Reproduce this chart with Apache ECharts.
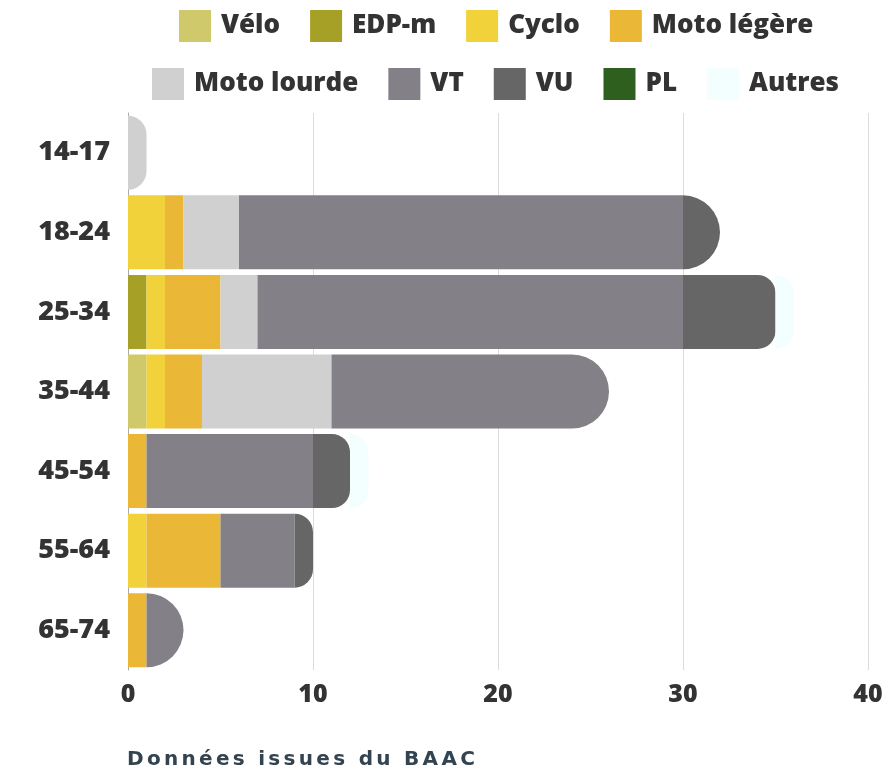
<!DOCTYPE html>
<html>
<head>
<meta charset="utf-8">
<script src="https://cdn.jsdelivr.net/npm/echarts@6/dist/echarts.min.js"></script>
<style>
  html, body { margin: 0; padding: 0; background: #fff; }
  #chart { width: 889px; height: 771px; }
  .source {
    position: absolute;
    left: 127px;
    top: 746px;
    font-family: 'DejaVu Sans', sans-serif;
    font-weight: 700;
    font-size: 20px;
    letter-spacing: 3.3px;
    color: #33434f;
  }
</style>
</head>
<body>
<div id="chart"></div>
<div class="source">Données issues du BAAC</div>
<script>
// tranches d'âge
const ages = ['14-17', '18-24', '25-34', '35-44', '45-54', '55-64', '65-74']
// nombre de victimes par type de véhicule
const velo = [0, 0, 0, 1, 0, 0, 0]
const edpm = [0, 0, 1, 0, 0, 0, 0]
const cyclo = [0, 2, 1, 1, 0, 1, 0]
const motoLegere = [0, 1, 3, 2, 1, 4, 1]
const motoLourde = [1, 3, 2, 7, 0, 0, 0]
const vt = [0, 24, 23, 15, 9, 4, 2]
const vu = [0, 2, 5, 0, 2, 1, 0]
const pl = [0, 0, 0, 0, 0, 0, 0]
const autres = [0, 0, 1, 0, 1, 0, 0]
const xTicks = [0, 10, 20, 30, 40]

const seriesDefs = [
  { name: 'Vélo', data: velo, color: '#cfc96b' },
  { name: 'EDP-m', data: edpm, color: '#a6a026' },
  { name: 'Cyclo', data: cyclo, color: '#f2d23a' },
  { name: 'Moto légère', data: motoLegere, color: '#ebb737' },
  { name: 'Moto lourde', data: motoLourde, color: '#d0d0d0' },
  { name: 'VT', data: vt, color: '#838087' },
  { name: 'VU', data: vu, color: '#666666' },
  { name: 'PL', data: pl, color: '#2e5f1f' },
  { name: 'Autres', data: autres, color: '#f3feff' }
]

// dernier segment non nul de chaque barre -> bout arrondi
const lastIdx = ages.map((a, i) => {
  let last = -1
  seriesDefs.forEach((s, k) => { if (s.data[i] > 0) last = k })
  return last
})

const series = seriesDefs.map((s, k) => ({
  name: s.name,
  type: 'bar',
  stack: 'total',
  barWidth: 74,
  itemStyle: { color: s.color },
  data: s.data.map((v, i) => {
    if (k === lastIdx[i]) {
      return { value: v, itemStyle: { borderRadius: [0, 37, 37, 0] } }
    }
    // segment avant un petit « Autres » : coin légèrement arrondi
    if (seriesDefs[lastIdx[i]].name === 'Autres' && v > 0 && k < lastIdx[i] &&
        seriesDefs.slice(k + 1, lastIdx[i]).every(o => o.data[i] === 0)) {
      return { value: v, itemStyle: { borderRadius: [0, 18, 18, 0] } }
    }
    return v
  })
}))

const boldText = {
  fontFamily: 'Open Sans',
  fontWeight: 800,
  fontSize: 26,
  color: '#333'
}

const legendBase = {
  icon: 'rect',
  itemWidth: 32,
  itemHeight: 32,
  itemGap: 30,
  selectedMode: false,
  textStyle: Object.assign({ padding: [0, 0, 0, 5] }, boldText)
}

const chart = echarts.init(document.getElementById('chart'))
chart.setOption({
  animation: false,
  color: seriesDefs.map(s => s.color),
  legend: [
    Object.assign({
      data: ['Vélo', 'EDP-m', 'Cyclo', 'Moto légère'],
      left: 174,
      top: 5
    }, legendBase),
    Object.assign({
      data: ['Moto lourde', 'VT', 'VU', 'PL', 'Autres'],
      left: 147,
      top: 63
    }, legendBase)
  ],
  grid: {
    left: 128,
    right: 21,
    top: 113,
    bottom: 101
  },
  xAxis: {
    type: 'value',
    min: xTicks[0],
    max: xTicks[xTicks.length - 1],
    interval: 10,
    axisLine: { show: false },
    axisTick: { show: false },
    splitLine: { show: true, lineStyle: { color: '#dcdcdc', width: 1 } },
    axisLabel: Object.assign({ margin: 12 }, boldText, { fontSize: 25 })
  },
  yAxis: {
    type: 'category',
    data: ages,
    inverse: true,
    axisLine: { show: true, lineStyle: { color: '#aaa', width: 1 } },
    axisTick: { show: false },
    axisLabel: Object.assign({ margin: 18 }, boldText, { fontSize: 27 })
  },
  series: series
})
</script>
</body>
</html>
